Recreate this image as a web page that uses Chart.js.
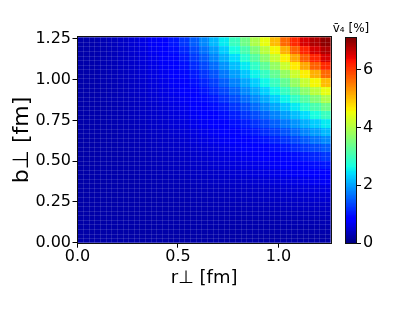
<!DOCTYPE html>
<html>
<head>
<meta charset="utf-8">
<script src="https://cdn.jsdelivr.net/npm/chart.js@4.4.0/dist/chart.umd.min.js"></script>
<style>
  html, body { margin: 0; padding: 0; background: #fff; }
  #wrap { position: relative; width: 415px; height: 311px; }
  #wrap canvas { position: absolute; left: 0; top: 0; }
</style>
</head>
<body>
<div id="wrap">
  <canvas id="heat" width="415" height="311"></canvas>
  <canvas id="cbar" width="415" height="311"></canvas>
</div>
<script>
// cell centres in fm (same grid for r and b), cell width 0.0504
const rCenters = [0.0252, 0.0756, 0.126, 0.1764, 0.2268, 0.2772, 0.3276, 0.378, 0.4284, 0.4788, 0.5292, 0.5796, 0.63,
                  0.6804, 0.7308, 0.7812, 0.8316, 0.882, 0.9324, 0.9828, 1.0332, 1.0836, 1.134, 1.1844, 1.2348];
const bCenters = [0.0252, 0.0756, 0.126, 0.1764, 0.2268, 0.2772, 0.3276, 0.378, 0.4284, 0.4788, 0.5292, 0.5796, 0.63,
                  0.6804, 0.7308, 0.7812, 0.8316, 0.882, 0.9324, 0.9828, 1.0332, 1.0836, 1.134, 1.1844, 1.2348];
const cellW = 0.0504;

// v4 [%], one row per b (row 0 = smallest b), one column per r
const v4Rows = [
  [.25,.25,.25,.25,.25,.25,.25,.25,.25,.25,.25,.25,.25,.25,.25,.25,.25,.25,.25,.25,.25,.25,.25,.25,.25],
  [.25,.25,.25,.25,.25,.25,.25,.25,.26,.26,.26,.26,.26,.26,.26,.26,.26,.27,.27,.27,.27,.27,.27,.28,.28],
  [.25,.25,.25,.26,.26,.26,.26,.26,.27,.27,.27,.27,.27,.28,.28,.28,.28,.29,.29,.29,.30,.30,.31,.31,.32],
  [.25,.25,.26,.26,.26,.26,.27,.27,.27,.28,.28,.28,.29,.29,.30,.31,.31,.32,.32,.33,.34,.34,.35,.36,.37],
  [.25,.26,.26,.26,.27,.27,.27,.28,.28,.29,.29,.30,.31,.32,.33,.33,.34,.35,.36,.37,.38,.40,.41,.42,.43],
  [.25,.26,.26,.26,.27,.27,.28,.28,.29,.30,.31,.32,.33,.34,.35,.37,.38,.39,.41,.42,.44,.45,.47,.49,.51],
  [.25,.26,.26,.27,.27,.28,.29,.30,.31,.32,.33,.34,.36,.37,.39,.41,.42,.44,.46,.48,.51,.53,.56,.58,.61],
  [.25,.26,.26,.27,.28,.28,.30,.31,.32,.34,.35,.37,.39,.41,.43,.45,.47,.50,.53,.56,.59,.62,.66,.70,.73],
  [.25,.26,.27,.27,.28,.29,.31,.32,.34,.36,.38,.40,.42,.44,.47,.50,.53,.57,.60,.64,.68,.73,.77,.82,.87],
  [.25,.26,.27,.28,.29,.30,.32,.34,.36,.38,.40,.43,.45,.49,.53,.56,.60,.64,.69,.74,.79,.85,.91,.97,1.03],
  [.25,.26,.27,.28,.29,.31,.33,.35,.38,.40,.43,.46,.50,.54,.58,.63,.68,.73,.79,.85,.92,.98,1.05,1.15,1.26],
  [.25,.26,.27,.28,.30,.32,.34,.37,.40,.43,.46,.50,.55,.59,.65,.71,.77,.83,.90,.98,1.05,1.17,1.28,1.40,1.53],
  [.25,.26,.27,.29,.31,.33,.36,.39,.42,.45,.50,.55,.60,.66,.72,.78,.86,.94,1.02,1.13,1.25,1.38,1.52,1.68,1.84],
  [.26,.27,.28,.29,.32,.34,.37,.41,.44,.49,.54,.59,.66,.72,.79,.88,.97,1.05,1.19,1.32,1.46,1.64,1.81,1.98,2.17],
  [.26,.27,.28,.30,.33,.35,.39,.43,.47,.53,.58,.65,.72,.79,.89,.98,1.08,1.23,1.37,1.55,1.73,1.91,2.11,2.31,2.52],
  [.26,.27,.28,.31,.33,.37,.41,.45,.50,.56,.63,.71,.78,.88,.98,1.09,1.25,1.41,1.59,1.79,1.99,2.21,2.42,2.68,2.96],
  [.26,.27,.28,.31,.34,.38,.42,.47,.53,.60,.68,.77,.86,.97,1.08,1.25,1.42,1.62,1.83,2.05,2.27,2.51,2.80,3.10,3.44],
  [.26,.27,.29,.32,.35,.39,.44,.50,.57,.64,.73,.83,.94,1.05,1.23,1.41,1.62,1.84,2.07,2.32,2.58,2.89,3.20,3.57,3.96],
  [.26,.27,.29,.32,.36,.41,.46,.53,.60,.69,.79,.90,1.02,1.19,1.37,1.59,1.83,2.07,2.33,2.61,2.94,3.29,3.68,4.08,4.48],
  [.26,.27,.30,.33,.37,.42,.48,.56,.64,.74,.85,.98,1.13,1.32,1.55,1.79,2.05,2.32,2.61,2.96,3.33,3.76,4.18,4.59,5.04],
  [.26,.27,.30,.34,.38,.44,.51,.59,.68,.79,.92,1.05,1.25,1.46,1.73,1.99,2.27,2.58,2.94,3.33,3.77,4.22,4.65,5.13,5.66],
  [.26,.27,.31,.34,.40,.45,.53,.62,.73,.85,.98,1.17,1.38,1.64,1.91,2.21,2.51,2.89,3.29,3.76,4.22,4.69,5.19,5.73,6.15],
  [.26,.28,.31,.35,.41,.47,.56,.66,.77,.91,1.05,1.28,1.52,1.81,2.11,2.42,2.80,3.20,3.68,4.18,4.65,5.19,5.76,6.18,6.55],
  [.26,.28,.31,.36,.42,.49,.58,.70,.82,.97,1.15,1.40,1.68,1.98,2.31,2.68,3.10,3.57,4.08,4.59,5.13,5.73,6.18,6.56,6.80],
  [.26,.28,.32,.37,.43,.51,.61,.73,.87,1.03,1.26,1.53,1.84,2.17,2.52,2.96,3.44,3.96,4.48,5.04,5.66,6.15,6.55,6.80,7.00]
];

const xTicks = [0, 0.5, 1.0];
const xTickLabels = ['0.0', '0.5', '1.0'];
const yTicks = [0, 0.25, 0.5, 0.75, 1.0, 1.25];
const yTickLabels = ['0.00', '0.25', '0.50', '0.75', '1.00', '1.25'];
const cbTicks = [0, 2, 4, 6];
const cbTickLabels = ['0', '2', '4', '6'];
const vMax = 7.09;
const axisMax = 1.26;
const meshN = 45;

// matplotlib "jet"
const jetR = [[0, 0], [0.35, 0], [0.66, 1], [0.89, 1], [1, 0.5]];
const jetG = [[0, 0], [0.125, 0], [0.375, 1], [0.64, 1], [0.91, 0], [1, 0]];
const jetB = [[0, 0.5], [0.11, 1], [0.34, 1], [0.65, 0], [1, 0]];
function lerpTab(tab, t) {
  for (let k = 1; k < tab.length; k++) {
    if (t <= tab[k][0]) {
      const a = tab[k - 1], b = tab[k];
      return a[1] + (b[1] - a[1]) * (t - a[0]) / (b[0] - a[0]);
    }
  }
  return tab[tab.length - 1][1];
}
function jet(t) {
  t = Math.max(0, Math.min(1, t));
  const r = Math.round(255 * lerpTab(jetR, t));
  const g = Math.round(255 * lerpTab(jetG, t));
  const b = Math.round(255 * lerpTab(jetB, t));
  return 'rgb(' + r + ',' + g + ',' + b + ')';
}

let points = [];
for (let j = 0; j < bCenters.length; j++) {
  for (let i = 0; i < rCenters.length; i++) {
    points.push({x: rCenters[i], y: bCenters[j], v: v4Rows[j][i]});
  }
}

Chart.defaults.font.family = 'DejaVu Sans';
Chart.defaults.color = '#000';

const heatPlugin = {
  id: 'heatCells',
  beforeDatasetsDraw(chart) {
    const {ctx, chartArea: a} = chart;
    const xs = chart.scales.x, ys = chart.scales.y;
    const hw = cellW / 2;
    ctx.save();
    ctx.beginPath();
    ctx.rect(a.left, a.top, a.right - a.left, a.bottom - a.top);
    ctx.clip();
    chart.data.datasets[0].data.forEach(p => {
      const x0 = Math.round(xs.getPixelForValue(p.x - hw));
      const x1 = Math.round(xs.getPixelForValue(p.x + hw));
      const y0 = Math.round(ys.getPixelForValue(p.y + hw));
      const y1 = Math.round(ys.getPixelForValue(p.y - hw));
      ctx.fillStyle = jet(p.v / vMax);
      ctx.fillRect(x0, y0, x1 - x0, y1 - y0);
    });
    // faint mesh lines like the original
    ctx.strokeStyle = 'rgba(255,255,255,0.12)';
    ctx.lineWidth = 1;
    ctx.beginPath();
    for (let k = 1; k < meshN; k++) {
      const px = Math.round(xs.getPixelForValue(k * axisMax / meshN)) + 0.5;
      ctx.moveTo(px, a.top);
      ctx.lineTo(px, a.bottom);
      const py = Math.round(ys.getPixelForValue(k * axisMax / meshN)) + 0.5;
      ctx.moveTo(a.left, py);
      ctx.lineTo(a.right, py);
    }
    ctx.stroke();
    ctx.restore();
  },
  afterDraw(chart) {
    const {ctx, chartArea: a} = chart;
    ctx.save();
    ctx.strokeStyle = '#111';
    ctx.lineWidth = 1;
    ctx.strokeRect(Math.round(a.left) - 0.5, Math.round(a.top) - 0.5,
      Math.round(a.right) - Math.round(a.left) + 1, Math.round(a.bottom) - Math.round(a.top) + 1);
    ctx.restore();
  }
};

new Chart(document.getElementById('heat'), {
  type: 'scatter',
  data: { datasets: [{ data: points, pointRadius: 0 }] },
  options: {
    responsive: false,
    animation: false,
    events: [],
    layout: { padding: { left: 0, top: 37.3, right: 84.3, bottom: 0 } },
    plugins: { legend: { display: false }, tooltip: { enabled: false } },
    scales: {
      x: {
        type: 'linear', min: 0, max: axisMax,
        afterBuildTicks: s => { s.ticks = xTicks.map(v => ({value: v})); },
        afterFit: s => { s.height = 68.3; },
        ticks: { callback: (v, i) => xTickLabels[i], font: { size: 16, lineHeight: 1.1 }, padding: 0, maxRotation: 0, autoSkip: false },
        grid: { drawOnChartArea: false, drawTicks: true, tickLength: 5, color: '#000' },
        border: { display: false },
        title: { display: true, text: 'r⊥ [fm]', font: { size: 18 }, padding: { top: 0, bottom: 22 } }
      },
      y: {
        type: 'linear', min: 0, max: axisMax,
        afterBuildTicks: s => { s.ticks = yTicks.map(v => ({value: v})); },
        afterFit: s => { s.width = 77.5; },
        ticks: { callback: (v, i) => yTickLabels[i], font: { size: 16 }, padding: 1.5, autoSkip: false },
        grid: { drawOnChartArea: false, drawTicks: true, tickLength: 5, color: '#000' },
        border: { display: false },
        title: { display: true, text: 'b⊥ [fm]', font: { size: 22 }, padding: { top: 9, bottom: 0 } }
      }
    }
  },
  plugins: [heatPlugin]
});

const barPlugin = {
  id: 'colorBar',
  beforeDatasetsDraw(chart) {
    const {ctx, chartArea: a} = chart;
    const ys = chart.scales.y;
    const n = 256;
    ctx.save();
    for (let k = 0; k < n; k++) {
      const y0 = ys.getPixelForValue(vMax * (k + 1) / n);
      const y1 = ys.getPixelForValue(vMax * k / n);
      ctx.fillStyle = jet((k + 0.5) / n);
      ctx.fillRect(a.left, Math.floor(y0), a.right - a.left, Math.ceil(y1) - Math.floor(y0));
    }
    ctx.strokeStyle = '#111';
    ctx.lineWidth = 1;
    ctx.strokeRect(Math.round(a.left) - 0.5, Math.round(a.top) - 0.5,
      Math.round(a.right) - Math.round(a.left) + 1, Math.round(a.bottom) - Math.round(a.top) + 1);
    ctx.restore();
  }
};

new Chart(document.getElementById('cbar'), {
  type: 'scatter',
  data: { datasets: [{ data: [] }] },
  options: {
    responsive: false,
    animation: false,
    events: [],
    layout: { padding: { left: 306, top: 0, right: 19, bottom: 68 } },
    plugins: {
      legend: { display: false },
      tooltip: { enabled: false },
      title: { display: true, text: 'v̄₄ [%]', font: { size: 12, weight: 'normal' }, padding: { top: 21.3, bottom: 2.3 } }
    },
    scales: {
      x: { display: false, min: 0, max: 1 },
      yLeft: {
        position: 'left', display: true,
        afterFit: s => { s.width = 40; },
        ticks: { display: false }, grid: { display: false }, border: { display: false }
      },
      y: {
        position: 'right', min: 0, max: vMax,
        afterBuildTicks: s => { s.ticks = cbTicks.map(v => ({value: v})); },
        afterFit: s => { s.width = 40; },
        ticks: { callback: (v, i) => cbTickLabels[i], font: { size: 16 }, padding: 2, autoSkip: false },
        grid: { drawOnChartArea: false, drawTicks: true, tickLength: 5, color: '#000' },
        border: { display: false }
      }
    }
  },
  plugins: [barPlugin]
});
</script>
</body>
</html>
